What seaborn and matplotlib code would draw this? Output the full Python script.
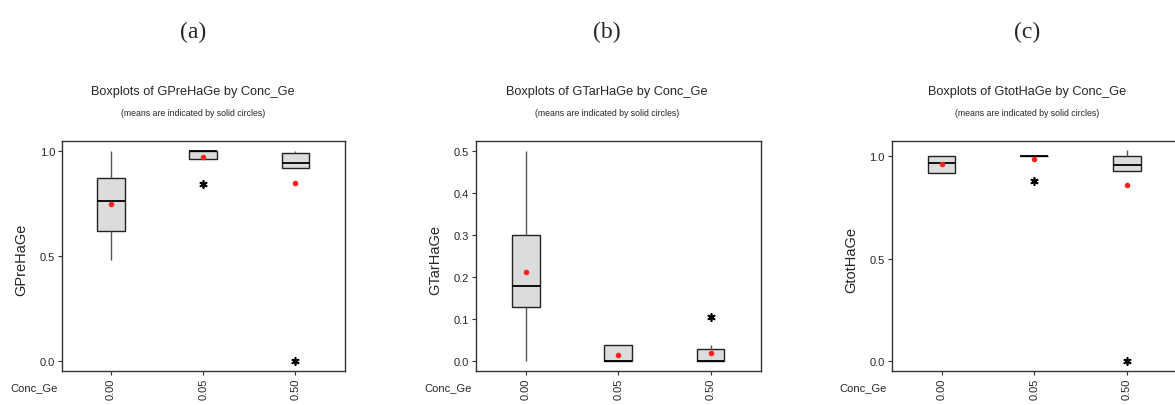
import pandas as pd
import matplotlib
matplotlib.use("Agg")
import matplotlib.pyplot as plt
import seaborn as sns

# kategori konsentrasi Ge
conc_levels = ["0.00", "0.05", "0.50"]

# (a) GPreHaGe per kelompok
gpre_000 = [0.48, 0.55, 0.62, 0.70, 0.76, 0.80, 0.87, 0.95, 1.00]
gpre_005 = [0.84, 0.96, 0.96, 0.98, 1.00, 1.00, 1.00, 1.00, 1.00]
gpre_050 = [0.00, 0.92, 0.92, 0.92, 0.94, 0.94, 0.99, 0.99, 1.00]

# (b) GTarHaGe per kelompok
gtar_000 = [0.00, 0.08, 0.13, 0.15, 0.18, 0.22, 0.30, 0.35, 0.50]
gtar_005 = [0.00, 0.00, 0.00, 0.00, 0.00, 0.02, 0.04, 0.04, 0.04]
gtar_050 = [0.00, 0.00, 0.00, 0.00, 0.00, 0.00, 0.03, 0.04, 0.105]

# (c) GtotHaGe per kelompok
gtot_000 = [0.92, 0.92, 0.92, 0.95, 0.97, 0.98, 1.00, 1.00, 1.00]
gtot_005 = [0.88, 1.00, 1.00, 1.00, 1.00, 1.00, 1.00, 1.00, 1.00]
gtot_050 = [0.00, 0.93, 0.93, 0.93, 0.96, 0.96, 1.00, 1.00, 1.03]

y_ticks_a = [0.0, 0.5, 1.0]
y_ticks_b = [0.0, 0.1, 0.2, 0.3, 0.4, 0.5]
y_ticks_c = [0.0, 0.5, 1.0]


def long_df(name, groups):
    rows = []
    for lvl, vals in zip(conc_levels, groups):
        for v in vals:
            rows.append({"Conc_Ge": lvl, name: v})
    return pd.DataFrame(rows)


sns.set_style("white")
plt.rcParams["font.family"] = ["Liberation Sans", "DejaVu Sans"]
narrow = ["Liberation Sans Narrow", "Liberation Sans", "DejaVu Sans"]

fig = plt.figure(figsize=(11.75, 4.06), dpi=100)

panels = [
    ("(a)", "GPreHaGe", [gpre_000, gpre_005, gpre_050], y_ticks_a,
     [0.0528, 0.0837, 0.241, 0.567], (-0.046, 1.047), (-0.53, 2.54), 193, 21.7),
    ("(b)", "GTarHaGe", [gtar_000, gtar_005, gtar_050], y_ticks_b,
     [0.405, 0.0837, 0.2426, 0.567], (-0.023, 0.524), (-0.54, 2.545), 607, 435),
    ("(c)", "GtotHaGe", [gtot_000, gtot_005, gtot_050], y_ticks_c,
     [0.759, 0.0837, 0.2426, 0.567], (-0.047, 1.076), (-0.537, 2.54), 1027, 851.7),
]

W, H = 1175.0, 406.0
for label, name, groups, yt, rect, ylim, xlim, cx, ylab_x in panels:
    ax = fig.add_axes(rect)
    df = long_df(name, groups)
    sns.boxplot(
        data=df, x="Conc_Ge", y=name, order=conc_levels, ax=ax,
        width=0.3, color="#dcdcdc", saturation=1, linecolor="#222222",
        linewidth=1.0, showcaps=False, showmeans=True,
        medianprops=dict(color="black", linewidth=1.3),
        whiskerprops=dict(color="#555555", linewidth=1.0),
        meanprops=dict(marker="o", markerfacecolor="#ff2020",
                       markeredgecolor="#ff2020", markersize=3),
        flierprops=dict(marker=(6, 2, 0), markerfacecolor="black",
                        markeredgecolor="black", markersize=6,
                        markeredgewidth=1.2),
    )
    ax.set_xlim(*xlim)
    ax.set_ylim(*ylim)
    ax.set_yticks(yt)
    ax.set_yticklabels([f"{t:.1f}" for t in yt], family=narrow, fontsize=8)
    ax.set_xticks(range(len(conc_levels)))
    ax.set_xticklabels(conc_levels, rotation=90, family=narrow, fontsize=8)
    ax.tick_params(axis="both", direction="out", length=3, width=0.8,
                   color="#333333", left=True, bottom=True, pad=2)
    ax.set_xlabel("")
    ax.set_ylabel("")
    for sp in ax.spines.values():
        sp.set_color("#333333")
        sp.set_linewidth(1.0)

    # label sumbu y, judul, dan label panel
    fig.text(ylab_x / W, 1 - 260 / H, name, rotation=90, ha="center",
             va="center", fontsize=10.5)
    fig.text(cx / W, 1 - 32 / H, label, ha="center", va="center",
             family=["Liberation Serif", "DejaVu Serif"], fontsize=17)
    fig.text(cx / W, 1 - 92 / H, f"Boxplots of {name} by Conc_Ge",
             ha="center", va="center", family=narrow, fontsize=9.2)
    fig.text(cx / W, 1 - 114 / H, "(means are indicated by solid circles)",
             ha="center", va="center", family=narrow, fontsize=6.3)
    fig.text((rect[0] * W - 52) / W, 1 - 388 / H, "Conc_Ge", ha="left",
             va="center", family=narrow, fontsize=8)

fig.savefig("out.png", dpi=100, facecolor="white")
